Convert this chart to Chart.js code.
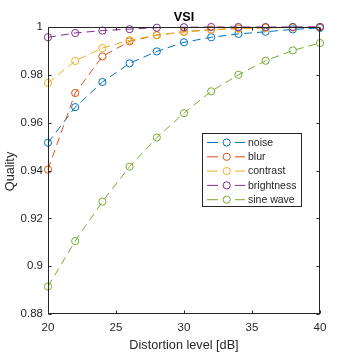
<!DOCTYPE html>
<html><head><meta charset="utf-8">
<script src="https://cdn.jsdelivr.net/npm/chart.js@4/dist/chart.umd.min.js"></script>
<style>html,body{margin:0;padding:0;background:#fff}#wrap{width:354px;height:354px}</style>
</head><body><div id="wrap"><canvas id="c" width="354" height="354"></canvas></div>
<script>
const levels = [20,22,24,26,28,30,32,34,36,38,40];
const noise = [0.9516,0.9665,0.9770,0.9848,0.9898,0.9936,0.9957,0.9971,0.9980,0.9990,0.9996];
const blur = [0.9404,0.9724,0.9877,0.9940,0.9966,0.9980,0.9989,0.9994,0.9997,0.9999,1.0000];
const contrast = [0.9766,0.9858,0.9912,0.9945,0.9966,0.9979,0.9988,0.9993,0.9996,0.9998,0.9999];
const brightness = [0.9957,0.9975,0.9985,0.9991,0.9997,0.9999,1.0000,1.0000,1.0000,1.0000,1.0000];
const sineWave = [0.8915,0.9105,0.9270,0.9416,0.9538,0.9640,0.9731,0.9800,0.9859,0.9902,0.9933];
const seriesNames = ['noise','blur','contrast','brightness','sine wave'];
const seriesColors = ['#0072BD','#D95319','#EDB120','#7E2F8E','#77AC30'];
const xTicks = [20,25,30,35,40];
const yTicks = [0.88,0.9,0.92,0.94,0.96,0.98,1];
const titleText = 'VSI';
const xTitle = 'Distortion level [dB]';
const yTitle = 'Quality';

const seriesData = [noise, blur, contrast, brightness, sineWave];
const AX = '#262626';
const FONT = '"Liberation Sans", Arial, Helvetica, sans-serif';

const datasets = seriesData.map((arr,i)=>({
  label: seriesNames[i],
  data: arr.map((v,j)=>({x: levels[j], y: v})),
  borderColor: seriesColors[i],
  backgroundColor: 'rgba(0,0,0,0)',
  pointBackgroundColor: 'rgba(0,0,0,0)',
  pointBorderColor: seriesColors[i],
  pointRadius: 3.6,
  pointBorderWidth: 1,
  borderWidth: 1,
  borderDash: [8,5],
  tension: 0,
  fill: false,
  clip: false,
  order: 5 - i
}));

const deco = {
  id: 'deco',
  afterDatasetsDraw(chart){
    const ctx = chart.ctx, a = chart.chartArea;
    const xs = chart.scales.x, ys = chart.scales.y;
    ctx.save();
    ctx.strokeStyle = AX; ctx.lineWidth = 1; ctx.setLineDash([]);
    const L = Math.round(a.left)+0.5, R = Math.round(a.right)-0.5, T = Math.round(a.top)+0.5, B = Math.round(a.bottom)-0.5;
    ctx.strokeRect(L, T, R-L, B-T);
    ctx.beginPath();
    xTicks.forEach(v=>{
      const px = Math.round(xs.getPixelForValue(v))+0.5;
      ctx.moveTo(px,B); ctx.lineTo(px,B-3);
      ctx.moveTo(px,T); ctx.lineTo(px,T+3);
    });
    yTicks.forEach(v=>{
      const py = Math.round(ys.getPixelForValue(v))+0.5;
      ctx.moveTo(L,py); ctx.lineTo(L+3,py);
      ctx.moveTo(R,py); ctx.lineTo(R-3,py);
    });
    ctx.stroke();
    ctx.fillStyle = '#000';
    ctx.font = 'bold 12.7px ' + FONT;
    ctx.textAlign = 'center'; ctx.textBaseline = 'middle';
    ctx.fillText(titleText, (a.left+a.right)/2, 17.5);
    ctx.fillStyle = AX;
    ctx.font = '12.7px ' + FONT;
    ctx.fillText(xTitle, (a.left+a.right)/2, 345.5);
    ctx.save();
    ctx.translate(10, (a.top+a.bottom)/2 + 1);
    ctx.rotate(-Math.PI/2);
    ctx.fillText(yTitle, 0, 0);
    ctx.restore();
    const bx = 202.5, by = 133.5, bw = 99, bh = 73;
    ctx.fillStyle = '#fff';
    ctx.fillRect(bx, by, bw, bh);
    ctx.strokeStyle = AX; ctx.lineWidth = 1;
    ctx.strokeRect(bx, by, bw, bh);
    ctx.font = '10.5px ' + FONT;
    ctx.textAlign = 'left'; ctx.textBaseline = 'middle';
    seriesNames.forEach((name,i)=>{
      const y = 142.5 + i*14.3;
      ctx.strokeStyle = seriesColors[i];
      ctx.lineWidth = 1;
      ctx.setLineDash([]);
      ctx.beginPath();
      ctx.moveTo(207, y); ctx.lineTo(218, y);
      ctx.moveTo(235, y); ctx.lineTo(245, y);
      ctx.stroke();
      ctx.beginPath();
      ctx.arc(226.7, y, 3.6, 0, Math.PI*2);
      ctx.stroke();
      ctx.fillStyle = AX;
      ctx.fillText(name, 248, y+0.5);
    });
    ctx.restore();
  }
};

new Chart(document.getElementById('c'), {
  type: 'line',
  data: { datasets },
  options: {
    responsive: false,
    animation: false,
    devicePixelRatio: 1,
    layout: { padding: { left: 0, right: 34, top: 27, bottom: 0 } },
    plugins: { legend: { display: false }, tooltip: { enabled: false }, title: { display: false } },
    scales: {
      x: {
        type: 'linear', min: 20, max: 40,
        afterBuildTicks(s){ s.ticks = xTicks.map(v=>({value:v})); },
        afterFit(s){ s.height = 40; },
        grid: { display: false, drawTicks: false },
        border: { display: false },
        ticks: { autoSkip: false, maxRotation: 0, padding: 7, color: AX, font: { family: FONT, size: 11.5 }, callback: v => String(v) }
      },
      y: {
        type: 'linear', min: 0.88, max: 1,
        afterBuildTicks(s){ s.ticks = yTicks.map(v=>({value:v})); },
        afterFit(s){ s.width = 48; },
        grid: { display: false, drawTicks: false },
        border: { display: false },
        ticks: { autoSkip: false, padding: 5, color: AX, font: { family: FONT, size: 11.5 }, callback: v => String(+v.toFixed(2)) }
      }
    }
  },
  plugins: [deco]
});
</script></body></html>
